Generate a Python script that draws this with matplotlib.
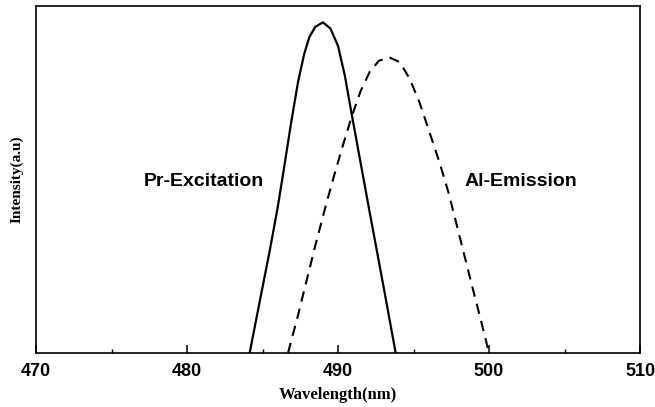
import numpy as np
import matplotlib
matplotlib.use('Agg')
import matplotlib.pyplot as plt
from matplotlib.ticker import MultipleLocator

# Pr excitation curve (solid)
exc_x = [484.15, 484.8, 485.48, 486.0, 486.47, 486.9, 487.35, 487.75, 488.1,
         488.5, 489.0, 489.5, 490.0, 490.45, 490.9, 491.3, 491.7, 492.1,
         492.55, 493.0, 493.4, 493.82]
exc_y = [0.0, 0.145, 0.295, 0.418, 0.545, 0.665, 0.78, 0.86, 0.91,
         0.94, 0.953, 0.935, 0.885, 0.80, 0.69, 0.595, 0.50, 0.405,
         0.30, 0.195, 0.10, 0.0]

# Al emission curve (dashed)
emi_x = [486.69, 487.3, 487.9, 488.5, 489.1, 489.7, 490.3, 490.9, 491.5,
         492.1, 492.7, 493.4, 494.1, 494.75, 495.4, 496.07, 496.73, 497.3,
         497.8, 498.3, 498.9, 499.5, 500.0]
emi_y = [0.0, 0.10, 0.205, 0.31, 0.41, 0.505, 0.595, 0.68, 0.755,
         0.81, 0.842, 0.852, 0.838, 0.79, 0.722, 0.635, 0.548, 0.465,
         0.38, 0.293, 0.19, 0.088, 0.0]

sans = 'Liberation Sans'
serif = 'Liberation Serif'

fig = plt.figure(figsize=(6.55, 4.07), dpi=100)
ax = fig.add_axes([36 / 655, 1 - 353 / 407, 604 / 655, 347 / 407])

ax.plot(exc_x, exc_y, color='black', lw=1.6, solid_joinstyle='round')
ax.plot(emi_x, emi_y, color='black', lw=1.5, dashes=(5, 3.5))

ax.text(485.1, 0.494, 'Pr-Excitation', ha='right', va='center',
        fontsize=14, fontweight='bold', family=sans)
ax.text(498.36, 0.494, 'Al-Emission', ha='left', va='center',
        fontsize=14, fontweight='bold', family=sans)

ax.set_xlim(470, 510)
ax.set_ylim(0, 1)
ax.xaxis.set_major_locator(MultipleLocator(10))
ax.xaxis.set_minor_locator(MultipleLocator(5))
ax.tick_params(axis='x', which='major', direction='in', length=6, width=1.1, pad=7)
ax.tick_params(axis='x', which='minor', direction='in', length=3, width=1.0)
ax.set_yticks([])
for lab in ax.get_xticklabels():
    lab.set_fontfamily(sans)
    lab.set_fontweight('bold')
    lab.set_fontsize(13)
for s in ax.spines.values():
    s.set_linewidth(1.2)

ax.set_xlabel('Wavelength(nm)', fontsize=12, fontweight='bold', family=serif, labelpad=5)
ax.set_ylabel('Intensity(a.u)', fontsize=11, fontweight='bold', family=serif, labelpad=9)

fig.savefig('out.png', dpi=100)
